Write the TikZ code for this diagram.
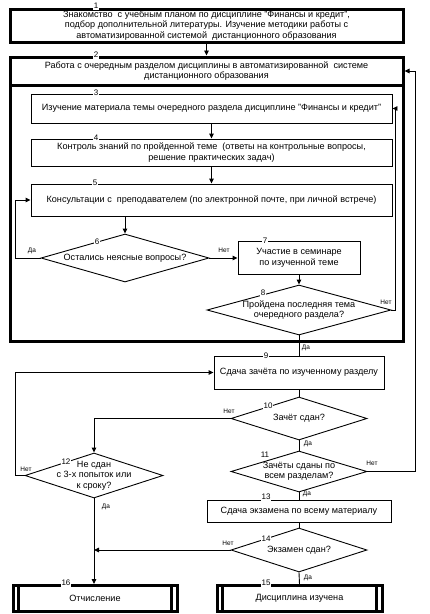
\documentclass[tikz,border=0pt]{standalone}
\usepackage{fontspec}
\setmainfont{Liberation Sans}
\usetikzlibrary{shapes.geometric,arrows.meta,calc}
\begin{document}
\begin{tikzpicture}[x=1pt,y=-1pt,
  box/.style={draw, line width=0.9pt, inner sep=1pt, align=center, font=\fontsize{9.1}{10.5}\selectfont},
  thickbox/.style={box, line width=3pt},
  dec/.style={draw, diamond, line width=0.9pt, inner sep=0pt},
  dtext/.style={inner sep=0pt, align=center, font=\fontsize{9.1}{10.5}\selectfont},
  num/.style={fill=white, inner sep=1pt, font=\fontsize{8}{8}\selectfont},
  yn/.style={inner sep=0pt, font=\fontsize{6.5}{6.5}\selectfont},
  arr/.style={line width=0.9pt, -{Triangle[length=5pt,width=4.5pt]}},
  ln/.style={line width=0.9pt},
  bar/.style={line width=3pt}
]
\useasboundingbox (0,0) rectangle (430,614);

% boxes
\node[thickbox, minimum width=393pt, minimum height=33pt] (b1) at (206.5,25.5)
  {Знакомство\ \ с учебным планом по дисциплине "Финансы и кредит",\\ подбор дополнительной литературы. Изучение методики работы с\\ автоматизированной системой\ \ дистанционного образования};
\node[thickbox, minimum width=393pt, minimum height=28pt] (b2) at (206.5,71)
  {Работа с очередным разделом дисциплины в автоматизированной\ \ системе\\ дистанционного образования};
\node[thickbox, minimum width=393pt, minimum height=256pt] (b2body) at (206.5,213) {};
\node[box, minimum width=361pt, minimum height=29pt] (b3) at (211.5,108.5)
  {Изучение материала темы очередного раздела дисциплине "Финансы и кредит"};
\node[box, minimum width=361pt, minimum height=27pt] (b4) at (211.5,152.5)
  {Контроль знаний по пройденной теме\ \ (ответы на контрольные вопросы,\\ решение практических задач)};
\node[box, minimum width=361pt, minimum height=32pt] (b5) at (211.5,200)
  {Консультации с\ \ преподавателем (по электронной почте, при личной встрече)};
\node[dec, minimum width=168pt, minimum height=48pt] (d6) at (125,258) {};
\node[dtext] (d6t) at (d6) {Остались неясные вопросы?};
\node[box, minimum width=122pt, minimum height=33pt] (b7) at (299,258)
  {Участие в семинаре\\ по изученной теме};
\node[dec, minimum width=184pt, minimum height=50pt] (d8) at (299,310) {};
\node[dtext] (d8t) at (d8) {Пройдена последняя тема\\ очередного раздела?};
\node[box, minimum width=170pt, minimum height=33pt] (b9) at (299,372.5)
  {Сдача зачёта по изученному разделу};
\node[dec, minimum width=136pt, minimum height=43pt] (d10) at (299,418.5) {};
\node[dtext] (d10t) at (d10) {Зачёт сдан?};
\node[dec, minimum width=136pt, minimum height=41pt] (d11) at (299,471.5) {};
\node[dtext] (d11t) at (d11) {Зачёты сданы по\\ всем разделам?};
\node[dec, minimum width=138pt, minimum height=45pt] (d12) at (94,475.5) {};
\node[dtext] (d12t) at (d12) {Не сдан\\ с 3-х попыток или\\ к сроку?};
\node[box, minimum width=184pt, minimum height=22pt] (b13) at (299,511)
  {Сдача экзамена по всему материалу};
\node[dec, minimum width=136pt, minimum height=44pt] (d14) at (299,550) {};
\node[dtext] (d14t) at (d14) {Экзамен сдан?};
\node[thickbox, minimum width=165pt, minimum height=26pt] (b15) at (299.5,598.5) {Дисциплина изучена};
\node[thickbox, minimum width=164pt, minimum height=26pt] (b16) at (95,598.5) {Отчисление};
\draw[bar] ([xshift=7pt]b15.north west) -- ([xshift=7pt]b15.south west);
\draw[bar] ([xshift=-7pt]b15.north east) -- ([xshift=-7pt]b15.south east);
\draw[bar] ([xshift=7pt]b16.north west) -- ([xshift=7pt]b16.south west);
\draw[bar] ([xshift=-7pt]b16.north east) -- ([xshift=-7pt]b16.south east);

% connectors
\draw[arr] (b1.south) -- (b2.north);
\draw[arr] (b3.south) -- (b4.north);
\draw[arr] (b4.south) -- (b5.north);
\draw[arr] (b5.south -| d6.north) -- (d6.north);
\draw[arr] (d6.west) -- ++(-25,0) |- (b5.west);
\draw[arr] (d6.east) -- (b7.west);
\draw[arr] (b7.south) -- (d8.north);
\draw[arr] (d8.east) -- ++(4,0) |- (b3.east);
\draw[ln] (d8.south) -- (b9.north);
\draw[ln] (b9.south) -- (d10.north);
\draw[arr] (d10.west) -| (d12.north);
\draw[ln] (d10.south) -- (d11.north);
\draw[arr] (d11.east) -- ++(48,0) |- (b2.east);
\draw[ln] (d11.south) -- (b13.north);
\draw[ln] (b13.south) -- (d14.north);
\draw[arr] (d14.west) -- (d14.west -| d12.south);
\draw[ln] (d14.south) -- (b15.north);
\draw[arr] (d12.west) -- ++(-9,0) |- (b9.west);
\draw[arr] (d12.south) -- (d12.south |- b16.north);

% numbers
\node[num] (n1) at (96,6) {1};
\node[num] (n2) at (96,55) {2};
\node[num] (n3) at (96,93) {3};
\node[num] (n4) at (96,138) {4};
\node[num] (n5) at (95,183) {5};
\node[num] (n6) at (97,242) {6};
\node[num] (n7) at (265,241) {7};
\node[num] (n8) at (263,293) {8};
\node[num] (n9) at (266,356) {9};
\node[num] (n10) at (268,406) {10};
\node[num] (n11) at (265,455) {11};
\node[num] (n12) at (66,462) {12};
\node[num] (n13) at (266,497) {13};
\node[num] (n14) at (266,539) {14};
\node[num] (n15) at (266,583) {15};
\node[num] (n16) at (66,583) {16};

% yes / no
\node[yn] (y6) at (32,251) {Да};
\node[yn] (no6) at (224,250) {Нет};
\node[yn] (no8) at (386,302) {Нет};
\node[yn] (y8) at (306,348) {Да};
\node[yn] (no10) at (229,411) {Нет};
\node[yn] (y10) at (308,444) {Да};
\node[yn] (no12) at (26,469) {Нет};
\node[yn] (no11) at (372,463) {Нет};
\node[yn] (y11) at (307,494) {Да};
\node[yn] (y12) at (106,507) {Да};
\node[yn] (no14) at (228,543) {Нет};
\node[yn] (y14) at (308,578) {Да};
\end{tikzpicture}
\end{document}
